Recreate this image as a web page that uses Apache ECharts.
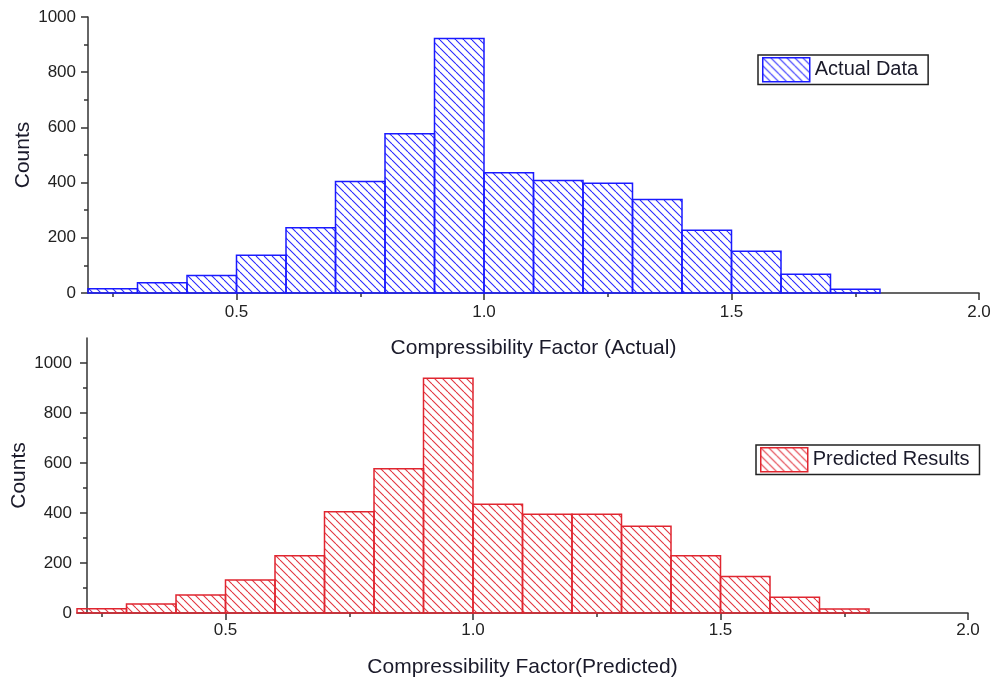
<!DOCTYPE html>
<html>
<head>
<meta charset="utf-8">
<script src="https://cdn.jsdelivr.net/npm/echarts@6/dist/echarts.min.js"></script>
<style>
  html, body { margin: 0; padding: 0; background: #fff; }
  #main { width: 992px; height: 678px; }
</style>
</head>
<body>
<div id="main"></div>
<script>
// histogram bins (left edges), width 0.1
const binStarts = [0.2, 0.3, 0.4, 0.5, 0.6, 0.7, 0.8, 0.9, 1.0, 1.1, 1.2, 1.3, 1.4, 1.5, 1.6, 1.7];
const binWidth = 0.1;
const actualCounts = [15, 37, 63, 137, 236, 404, 577, 922, 436, 408, 398, 339, 227, 151, 68, 14];
const predictedCounts = [17, 36, 72, 132, 229, 405, 577, 939, 435, 395, 395, 347, 229, 146, 63, 16];

const xMajor = [0.5, 1.0, 1.5, 2.0];
const xMinor = [0.25, 0.75, 1.25, 1.75];
const yMajor = [0, 200, 400, 600, 800, 1000];
const yMinor = [100, 300, 500, 700, 900];

const font = 'Arial, "Liberation Sans", sans-serif';

// diagonal hatch fill (top-left to bottom-right)
function makeHatch(color, size) {
  const c = document.createElement('canvas');
  c.width = size; c.height = size;
  const ctx = c.getContext('2d');
  ctx.strokeStyle = color;
  ctx.lineWidth = 1.1;
  for (const off of [-size, 0, size]) {
    ctx.beginPath();
    ctx.moveTo(off, 0);
    ctx.lineTo(off + size, size);
    ctx.stroke();
  }
  return { image: c, repeat: 'repeat' };
}

const blueHatch = makeHatch('#2828ff', 8);
const redHatch = makeHatch('#e2343e', 8);

function histRender(fill, stroke) {
  return function (params, api) {
    const x0 = api.value(0);
    const cnt = api.value(1);
    const p0 = api.coord([x0, cnt]);
    const p1 = api.coord([x0 + binWidth, 0]);
    return {
      type: 'rect',
      shape: { x: p0[0], y: p0[1], width: p1[0] - p0[0], height: p1[1] - p0[1] },
      style: { fill: fill, stroke: stroke, lineWidth: 1.5 }
    };
  };
}

const axisLine = { show: true, onZero: false, lineStyle: { color: '#333', width: 1.5 } };

function xAxes(gridIndex, name, nameGap, labelMargin) {
  return [
    {
      gridIndex: gridIndex, type: 'value', position: 'bottom', min: 0.2, max: 2.0,
      name: name, nameLocation: 'middle', nameGap: nameGap, nameMoveOverlap: false,
      nameTextStyle: { fontFamily: font, fontSize: 21, color: '#1a1a2a' },
      axisLine: axisLine,
      axisTick: { show: true, customValues: xMajor, length: 7, lineStyle: { color: '#333', width: 1.5 } },
      axisLabel: { customValues: xMajor, margin: labelMargin, fontFamily: font, fontSize: 17, color: '#222',
        formatter: v => v.toFixed(1) },
      splitLine: { show: false }
    },
    {
      gridIndex: gridIndex, type: 'value', position: 'bottom', min: 0.2, max: 2.0,
      axisLine: { show: false, onZero: false },
      axisTick: { show: true, customValues: xMinor, length: 4, lineStyle: { color: '#333', width: 1.5 } },
      axisLabel: { show: false },
      splitLine: { show: false }
    }
  ];
}

function yAxes(gridIndex, max, offset, nameGap, labelMargin) {
  return [
    {
      gridIndex: gridIndex, type: 'value', position: 'left', min: 0, max: max, interval: 200, offset: offset,
      name: 'Counts', nameLocation: 'middle', nameGap: nameGap, nameMoveOverlap: false,
      nameTextStyle: { fontFamily: font, fontSize: 21, color: '#1a1a2a' },
      axisLine: axisLine,
      axisTick: { show: true, customValues: yMajor, length: 7, lineStyle: { color: '#333', width: 1.5 } },
      axisLabel: { customValues: yMajor, margin: labelMargin, fontFamily: font, fontSize: 17, color: '#222',
        formatter: v => String(v) },
      splitLine: { show: false }
    },
    {
      gridIndex: gridIndex, type: 'value', position: 'left', min: 0, max: max, interval: 200, offset: offset,
      axisLine: { show: false, onZero: false },
      axisTick: { show: true, customValues: yMinor, length: 4, lineStyle: { color: '#333', width: 1.5 } },
      axisLabel: { show: false },
      splitLine: { show: false }
    }
  ];
}

function legendBox(name, left, top, fill, stroke, padRight) {
  return {
    data: [{ name: name, icon: 'rect', itemStyle: { color: fill, borderColor: stroke, borderWidth: 1.5 } }],
    left: left, top: top,
    orient: 'horizontal',
    itemWidth: 47, itemHeight: 24,
    padding: [2, padRight, 2, 4],
    borderColor: '#222', borderWidth: 1.5,
    backgroundColor: '#fff',
    textStyle: { fontFamily: font, fontSize: 20, color: '#1a1a2a' },
    selectedMode: false
  };
}

const chart = echarts.init(document.getElementById('main'), null, { renderer: 'canvas' });

chart.setOption({
  animation: false,
  backgroundColor: '#fff',
  grid: [
    { left: 88, right: 13, top: 17, bottom: 385, containLabel: false, outerBoundsMode: 'none' },
    { left: 77, right: 24, top: 338, bottom: 65, containLabel: false, outerBoundsMode: 'none' }
  ],
  xAxis: [].concat(
    xAxes(0, 'Compressibility Factor (Actual)', 45, 11),
    xAxes(1, 'Compressibility Factor(Predicted)', 44, 9)
  ),
  yAxis: [].concat(
    yAxes(0, 1000, 0, 54, 12),
    yAxes(1, 1100, -10, 57, 15)
  ),
  legend: [
    legendBox('Actual Data', 758, 55, blueHatch, '#1a1aff', 10),
    legendBox('Predicted Results', 756, 445, redHatch, '#e02630', 10)
  ],
  series: [
    {
      name: 'Actual Data', type: 'custom', xAxisIndex: 0, yAxisIndex: 0,
      renderItem: histRender(blueHatch, '#1a1aff'),
      encode: { x: 0, y: 1 },
      itemStyle: { color: '#1a1aff' },
      data: binStarts.map((b, i) => [b, actualCounts[i]])
    },
    {
      name: 'Predicted Results', type: 'custom', xAxisIndex: 2, yAxisIndex: 2,
      renderItem: histRender(redHatch, '#e02630'),
      encode: { x: 0, y: 1 },
      itemStyle: { color: '#e02630' },
      data: binStarts.map((b, i) => [b, predictedCounts[i]])
    }
  ]
});
</script>
</body>
</html>
